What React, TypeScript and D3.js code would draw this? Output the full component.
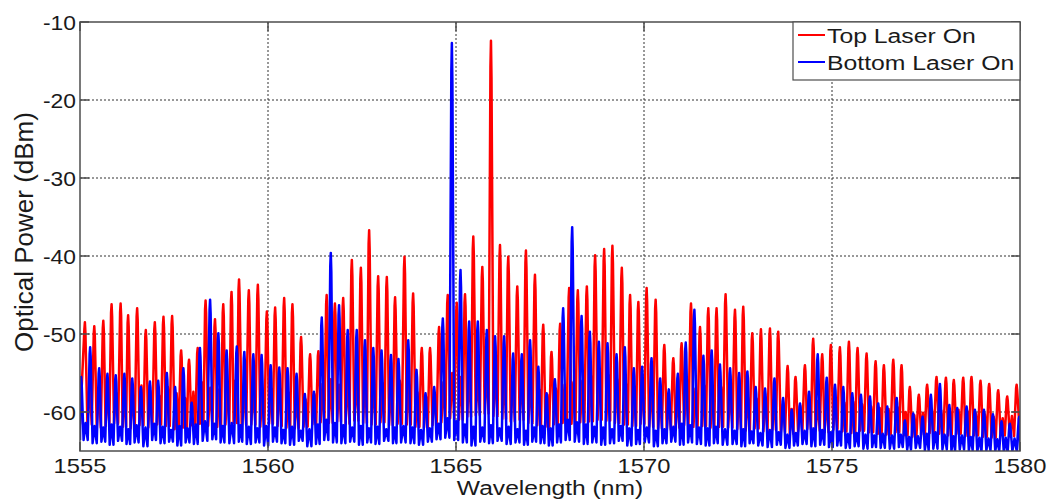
import React from "react";
import * as d3 from "d3";

// ---------- data ----------
const xTicks = [1555, 1560, 1565, 1570, 1575, 1580];
const yTicks = [-10, -20, -30, -40, -50, -60];
const seriesNames = ["Top Laser On", "Bottom Laser On"];
const seriesColors = ["#ff0000", "#0000ff"];

// Top laser on (red): comb line wavelengths (nm) and peak powers (dBm)
const redPeakWl = [
  1555.13, 1555.38, 1555.62, 1555.84, 1556.08, 1556.28, 1556.52, 1556.75, 1556.99, 1557.22, 1557.45, 1557.69, 1557.9, 1558.13, 1558.34, 1558.59, 1558.81, 1559.03, 1559.23,
  1559.49, 1559.73, 1559.97, 1560.19, 1560.43, 1560.65, 1560.88, 1561.12, 1561.34, 1561.56, 1561.78, 1562.0, 1562.23, 1562.47, 1562.69, 1562.93, 1563.16, 1563.38,
  1563.63, 1563.86, 1564.09, 1564.31, 1564.55, 1564.78, 1565.02, 1565.24, 1565.46, 1565.7, 1565.93, 1566.17, 1566.39, 1566.63, 1566.86, 1567.1, 1567.32, 1567.54, 1567.77,
  1568.01, 1568.24, 1568.48, 1568.7, 1568.94, 1569.16, 1569.41, 1569.63, 1569.85, 1570.07, 1570.31, 1570.54, 1570.78, 1571.0, 1571.25, 1571.49, 1571.71, 1571.93,
  1572.17, 1572.42, 1572.64, 1572.88, 1573.11, 1573.35, 1573.57, 1573.82, 1574.03, 1574.28, 1574.5, 1574.74, 1574.97, 1575.21, 1575.45, 1575.68, 1575.92, 1576.16,
  1576.38, 1576.63, 1576.85, 1577.07, 1577.31, 1577.53, 1577.78, 1578.03, 1578.24, 1578.49, 1578.71, 1578.95, 1579.18, 1579.42, 1579.66, 1579.91,
];
const redPeakDb = [
  -48.5, -49.0, -48.3, -46.2, -46.1, -47.6, -46.7, -49.5, -48.5, -47.8, -47.7, -52.1, -53.3, -51.8, -45.7, -48.1, -46.2, -44.6, -43.0,
  -44.4, -43.7, -47.1, -46.6, -45.4, -46.2, -50.4, -52.6, -52.2, -45.0, -46.1, -45.4, -40.5, -41.5, -36.7, -42.6, -42.7, -45.3,
  -40.1, -44.8, -51.8, -51.8, -49.1, -45.0, -46.0, -44.9, -37.5, -41.4, -12.4, -38.6, -40.1, -43.9, -39.3, -42.4, -48.8, -52.3, -48.7,
  -44.1, -44.4, -43.9, -39.9, -39.1, -38.7, -41.5, -45.0, -45.9, -44.1, -45.6, -51.4, -53.1, -51.2, -46.1, -49.1, -46.7, -46.7,
  -44.9, -46.9, -46.5, -49.9, -49.4, -49.3, -49.7, -54.1, -55.5, -54.0, -50.6, -52.6, -51.4, -51.7, -51.0, -51.8, -52.5, -53.5,
  -54.0, -53.3, -54.0, -56.8, -57.8, -56.5, -55.5, -55.6, -55.9, -55.6, -55.5, -56.0, -56.4, -57.2, -58.0, -56.5,
];
// weaker line between two comb lines, and the floor on each side of it
const redSubDb = [
  -56.5, -57.2, -56.8, -57.5, -56.9, -57.8, -56.6, -57.3, -57.9, -56.8, -57.6, -58.2, -57.4, -56.2, -56.9, -57.1, -56.5, -56.0, -56.4,
  -56.8, -57.3, -57.0, -56.6, -57.5, -58.1, -58.4, -57.7, -56.4, -55.8, -56.5, -55.6, -55.9, -55.2, -56.1, -56.3, -56.8, -56.0,
  -56.4, -57.5, -58.0, -57.6, -56.2, -55.0, -55.5, -54.8, -55.6, -54.5, -54.9, -55.3, -55.8, -55.4, -56.2, -57.1, -57.8, -57.0, -56.5,
  -56.2, -56.0, -55.4, -55.1, -55.3, -55.8, -56.4, -56.7, -56.2, -56.9, -58.0, -58.6, -57.8, -56.5, -57.0, -56.6, -56.9, -56.8,
  -57.2, -57.5, -58.0, -58.3, -58.1, -58.4, -59.0, -59.6, -59.2, -58.4, -58.6, -58.2, -58.5, -58.8, -58.7, -59.0, -59.3, -59.5,
  -59.6, -59.4, -60.0, -60.4, -60.1, -59.6, -59.8, -59.9, -59.7, -59.9, -60.2, -60.3, -60.6, -60.8, -60.5,
];
const redFloorDb = [
  -61.6, -62.0, -61.8, -61.5, -61.9, -62.1, -61.7, -62.0, -61.6, -61.8, -62.2, -62.0, -61.7, -61.5, -61.8, -61.9, -61.6, -61.4, -61.7,
  -61.6, -61.9, -61.5, -61.8, -62.0, -62.1, -61.9, -61.6, -61.3, -61.4, -61.2, -61.5, -61.1, -61.4, -61.6, -61.3, -61.7, -61.5,
  -61.6, -61.9, -62.0, -61.7, -61.3, -60.8, -61.0, -60.6, -60.4, -60.2, -60.5, -60.9, -61.2, -61.0, -61.4, -61.7, -61.9, -61.6, -61.4,
  -61.5, -61.3, -61.2, -61.0, -61.1, -61.4, -61.6, -61.8, -61.5, -61.9, -62.1, -62.3, -62.0, -61.7, -61.9, -61.8, -62.0, -61.9,
  -62.0, -62.2, -62.4, -62.1, -62.5, -62.3, -62.6, -62.8, -62.5, -62.2, -62.4, -62.6, -62.3, -62.5, -62.7, -62.4, -62.6, -62.8,
  -62.9, -62.6, -63.0, -63.2, -62.9, -62.7, -62.8, -63.0, -62.8, -63.1, -63.0, -63.2, -63.3, -63.0, -63.1,
];

// Bottom laser on (blue)
const bluePeakWl = [
  1555.03, 1555.27, 1555.51, 1555.73, 1555.95, 1556.18, 1556.39, 1556.62, 1556.86, 1557.08, 1557.31, 1557.53, 1557.75, 1557.97, 1558.19, 1558.46, 1558.68, 1558.9, 1559.17,
  1559.37, 1559.61, 1559.83, 1560.07, 1560.3, 1560.52, 1560.76, 1560.98, 1561.22, 1561.43, 1561.67, 1561.89, 1562.12, 1562.36, 1562.58, 1562.8, 1563.02, 1563.27, 1563.47,
  1563.73, 1563.95, 1564.19, 1564.42, 1564.65, 1564.89, 1565.12, 1565.35, 1565.58, 1565.82, 1566.04, 1566.28, 1566.52, 1566.75, 1566.97, 1567.19, 1567.41, 1567.63,
  1567.85, 1568.09, 1568.34, 1568.56, 1568.8, 1569.03, 1569.27, 1569.49, 1569.73, 1569.95, 1570.2, 1570.43, 1570.66, 1570.9, 1571.11, 1571.34, 1571.58, 1571.8, 1572.02,
  1572.29, 1572.53, 1572.75, 1572.97, 1573.22, 1573.47, 1573.7, 1573.93, 1574.15, 1574.39, 1574.62, 1574.86, 1575.08, 1575.3, 1575.54, 1575.77, 1576.01, 1576.23,
  1576.47, 1576.72, 1576.94, 1577.16, 1577.41, 1577.63, 1577.87, 1578.12, 1578.33, 1578.58, 1578.8, 1579.04, 1579.28, 1579.51, 1579.73, 1579.98,
];
const bluePeakDb = [
  -55.5, -51.7, -54.4, -55.1, -55.3, -55.1, -55.7, -56.8, -56.1, -56.0, -55.0, -56.8, -54.4, -58.8, -51.8, -45.6, -49.9, -52.1, -51.6,
  -52.3, -52.6, -52.7, -54.0, -54.3, -54.4, -55.1, -57.7, -57.4, -47.9, -39.6, -46.3, -49.5, -49.5, -50.8, -51.8, -52.1, -52.7, -53.2,
  -50.8, -54.6, -57.6, -56.8, -48.0, -12.7, -41.8, -48.4, -48.4, -49.5, -50.3, -50.3, -52.5, -52.6, -50.8, -54.2, -57.6, -55.8,
  -46.7, -36.3, -47.7, -49.7, -51.0, -51.2, -52.6, -51.7, -54.4, -54.2, -53.1, -55.7, -57.1, -55.1, -51.1, -46.9, -52.8, -52.1, -53.9,
  -54.4, -55.0, -54.8, -56.8, -57.0, -55.7, -58.2, -59.7, -58.9, -57.4, -52.6, -55.6, -56.5, -56.8, -57.6, -57.8, -58.0, -58.9,
  -59.3, -58.2, -61.1, -60.2, -60.6, -57.8, -56.4, -59.1, -59.5, -59.3, -59.7, -59.7, -60.3, -61.2, -61.5, -60.6,
];
const blueSubDb = [
  -61.4, -61.8, -62.0, -61.6, -61.9, -62.2, -61.7, -62.0, -61.5, -61.9, -62.3, -61.8, -62.1, -61.6, -61.2, -61.5, -61.8, -61.4, -61.7,
  -61.9, -62.1, -61.8, -62.0, -62.3, -61.9, -62.4, -62.2, -61.6, -61.0, -61.4, -61.7, -62.0, -61.8, -62.1, -61.9, -62.2, -62.0, -61.8,
  -62.0, -62.3, -62.1, -61.5, -60.8, -61.2, -61.6, -61.9, -62.0, -61.7, -62.1, -61.9, -62.2, -62.4, -62.0, -61.8, -62.1, -61.6,
  -61.0, -61.3, -61.6, -61.9, -62.0, -62.2, -61.8, -62.1, -62.3, -62.0, -62.4, -62.2, -61.9, -61.5, -61.7, -62.0, -62.1, -61.9, -62.2,
  -62.4, -62.2, -62.5, -62.7, -62.3, -62.6, -62.9, -62.7, -62.4, -62.1, -62.3, -62.6, -62.5, -62.8, -62.7, -62.9, -63.0, -62.8,
  -63.0, -62.9, -63.2, -63.1, -62.8, -62.6, -62.9, -63.1, -63.0, -63.2, -63.3, -63.4, -63.5, -63.3, -63.4,
];
const blueFloorDb = [
  -63.6, -64.0, -63.8, -64.2, -63.7, -64.1, -63.9, -64.4, -63.6, -64.0, -63.8, -64.3, -63.9, -64.1, -63.7, -63.5, -63.9, -64.0, -63.8,
  -64.1, -63.9, -64.3, -63.8, -64.0, -64.2, -63.7, -64.4, -64.1, -63.6, -63.9, -64.0, -63.8, -64.2, -63.9, -64.1, -63.7, -64.0, -63.9,
  -64.0, -64.2, -63.8, -63.5, -63.3, -63.6, -63.9, -64.3, -63.8, -64.0, -63.7, -64.1, -63.9, -64.2, -63.8, -64.0, -64.3, -63.9,
  -63.6, -63.8, -64.1, -63.9, -64.2, -64.0, -63.7, -64.3, -64.1, -63.9, -64.4, -64.0, -63.8, -64.2, -63.9, -64.1, -64.3, -64.0, -64.2,
  -64.1, -64.4, -64.0, -64.3, -64.5, -64.2, -64.6, -64.3, -64.1, -64.4, -64.2, -64.5, -64.3, -64.6, -64.4, -64.7, -64.5, -64.6,
  -64.7, -64.5, -64.8, -64.6, -64.9, -64.7, -64.8, -65.0, -64.8, -64.9, -65.1, -64.9, -65.0, -65.2, -65.0,
];

// ---------- layout ----------
const W = 1051;
const H = 499;
const L = 80;
const R = 1020;
const T = 22;
const B = 451;
const FONT = "'Liberation Sans', Arial, Helvetica, sans-serif";
const TXT = "#1a1a1a";
const AX = "#4d4d4d";

const x = d3.scaleLinear().domain([1555, 1580]).range([L, R]);
const y = d3.scaleLinear().domain([-65, -10]).range([B, T]);

type Pt = [number, number];

// drawing geometry of one comb line (rendering only): half width of the line top, in nm
const TOP_HALF = 0.014;

function buildTrace(wl: number[], pk: number[], sub: number[], floor: number[]): Pt[] {
  const pts: Pt[] = [];
  const n = wl.length;
  pts.push([1555, floor[0]]);
  for (let i = 0; i < n; i++) {
    const f = i < floor.length ? floor[i] : floor[floor.length - 1];
    const drop = (pk[i] - f) * 0.07;
    pts.push([wl[i] - TOP_HALF, pk[i] - drop]);
    pts.push([wl[i], pk[i]]);
    pts.push([wl[i] + TOP_HALF, pk[i] - drop * 1.4]);
    if (i < n - 1) {
      const a = wl[i];
      const b = wl[i + 1];
      pts.push([a + (b - a) * 0.27, floor[i]]);
      pts.push([a + (b - a) * 0.5, sub[i]]);
      pts.push([a + (b - a) * 0.73, floor[i]]);
    }
  }
  pts.push([1580, floor[floor.length - 1]]);
  return pts;
}

const line = d3
  .line<Pt>()
  .x((d) => x(d[0]))
  .y((d) => y(d[1]));

const redPath = line(buildTrace(redPeakWl, redPeakDb, redSubDb, redFloorDb)) || "";
const bluePath = line(buildTrace(bluePeakWl, bluePeakDb, blueSubDb, blueFloorDb)) || "";

function SText(props: {
  x: number;
  y: number;
  sx: number;
  size: number;
  anchor?: "start" | "middle" | "end";
  children: React.ReactNode;
}) {
  return (
    <text
      transform={`translate(${props.x},${props.y}) scale(${props.sx},1)`}
      fontSize={props.size}
      fontFamily={FONT}
      fill={TXT}
      textAnchor={props.anchor || "start"}
    >
      {props.children}
    </text>
  );
}

export default function App() {
  const tickLen = 9;
  return (
    <svg
      width={W}
      height={H}
      viewBox={`0 0 ${W} ${H}`}
      style={{ position: "absolute", left: 0, top: 0, background: "#fff" }}
    >
      <defs>
        <clipPath id="plotClip">
          <rect x={L} y={T} width={R - L} height={B - T} />
        </clipPath>
      </defs>
      <rect x={0} y={0} width={W} height={H} fill="#fff" />

      {/* grid */}
      {yTicks
        .filter((t) => t > -65 && t < -10)
        .map((t) => (
          <line
            key={"gy" + t}
            x1={L}
            x2={R}
            y1={y(t)}
            y2={y(t)}
            stroke="#333"
            strokeWidth={1}
            strokeDasharray="2,2"
          />
        ))}
      {xTicks
        .filter((t) => t > 1555 && t < 1580)
        .map((t) => (
          <line
            key={"gx" + t}
            x1={x(t)}
            x2={x(t)}
            y1={T}
            y2={B}
            stroke="#333"
            strokeWidth={1}
            strokeDasharray="2,2"
          />
        ))}

      {/* traces */}
      <g clipPath="url(#plotClip)">
        <path d={redPath} fill="none" stroke={seriesColors[0]} strokeWidth={2.5} strokeLinejoin="round" />
        <path d={bluePath} fill="none" stroke={seriesColors[1]} strokeWidth={2.5} strokeLinejoin="round" />
      </g>

      {/* axes box */}
      <rect x={L} y={T} width={R - L} height={B - T} fill="none" stroke={AX} strokeWidth={1.5} />
      {xTicks.map((t) => (
        <g key={"tx" + t}>
          <line x1={x(t)} x2={x(t)} y1={B} y2={B - tickLen} stroke={AX} strokeWidth={1.5} />
          <line x1={x(t)} x2={x(t)} y1={T} y2={T + tickLen} stroke={AX} strokeWidth={1.5} />
        </g>
      ))}
      {yTicks.map((t) => (
        <g key={"ty" + t}>
          <line x1={L} x2={L + tickLen} y1={y(t)} y2={y(t)} stroke={AX} strokeWidth={1.5} />
          <line x1={R} x2={R - tickLen} y1={y(t)} y2={y(t)} stroke={AX} strokeWidth={1.5} />
        </g>
      ))}

      {/* tick labels */}
      {xTicks.map((t) => (
        <SText key={"lx" + t} x={x(t)} y={473} sx={1.13} size={21} anchor="middle">
          {String(t)}
        </SText>
      ))}
      {yTicks.map((t) => (
        <SText key={"ly" + t} x={76} y={y(t) + 7.5} sx={1.17} size={19.5} anchor="end">
          {String(t)}
        </SText>
      ))}

      {/* axis titles */}
      <SText x={550} y={495} sx={1.23} size={20} anchor="middle">
        Wavelength (nm)
      </SText>
      <text
        transform="translate(33,232) rotate(-90)"
        fontSize={26}
        fontFamily={FONT}
        fill={TXT}
        textAnchor="middle"
      >
        Optical Power (dBm)
      </text>

      {/* legend */}
      <rect x={793} y={T} width={R - 793} height={58} fill="#fff" stroke={AX} strokeWidth={1.2} />
      {seriesNames.map((name, i) => (
        <g key={name}>
          <line x1={798} x2={825} y1={35 + i * 27} y2={35 + i * 27} stroke={seriesColors[i]} strokeWidth={2} />
          <SText x={827} y={43 + i * 27} sx={1.18} size={21}>
            {name}
          </SText>
        </g>
      ))}
    </svg>
  );
}
